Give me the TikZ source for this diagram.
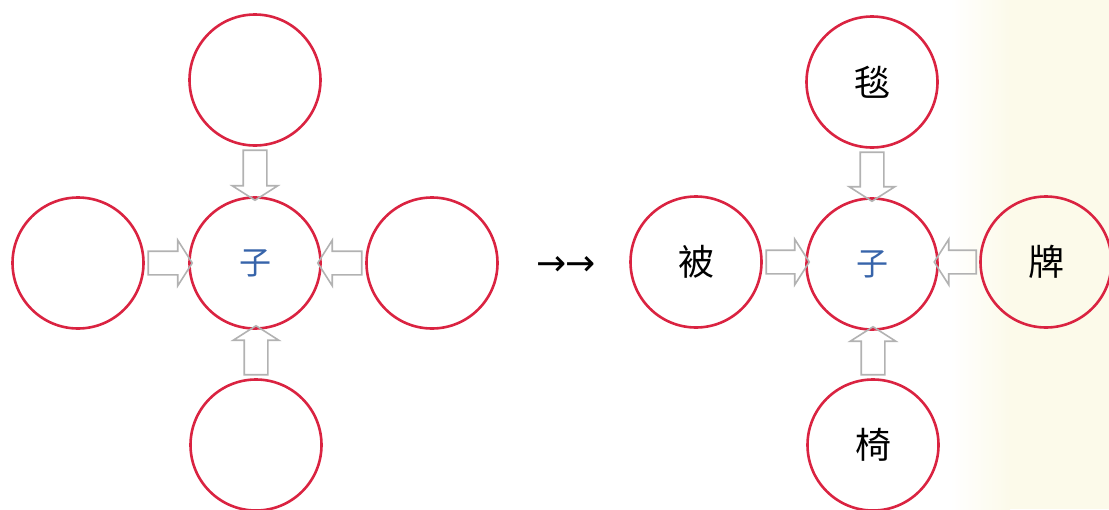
\documentclass[tikz,border=0pt]{standalone}
\usepackage{fontspec}
\newfontfamily\cjk{Noto Sans CJK SC}
\newfontfamily\dejavu{DejaVu Sans}
\usetikzlibrary{shapes.arrows,calc}
\definecolor{ringred}{RGB}{218,35,65}
\definecolor{arrowgray}{RGB}{178,178,178}
\definecolor{ziblue}{RGB}{55,100,170}
\definecolor{paper}{RGB}{252,250,234}
\begin{document}
\begin{tikzpicture}[x=1pt,y=-1pt,
  ring/.style={circle,draw=ringred,line width=2.6pt,minimum size=131pt,inner sep=0pt,
    font=\cjk\fontsize{36}{36}\selectfont},
  hollow/.style={single arrow,draw=arrowgray,line width=1.6pt,
    single arrow head extend=11pt,single arrow tip angle=115,single arrow head indent=0pt,
    inner xsep=0pt,inner ysep=11pt,outer sep=0pt,sloped,allow upside down,midway}]
\useasboundingbox (0,0) rectangle (1109,509);
\clip (0,0) rectangle (1109,509);
\shade[left color=white,right color=paper] (950,0) rectangle (1010,509);
\fill[paper] (1009.5,0) rectangle (1109,509);

% left group
\node[ring] (lc) at (255,263) {\color{ziblue}\fontsize{32}{32}\selectfont 子};
\node[ring] (lt) at (255,80) {};
\node[ring] (lb) at (256,445) {};
\node[ring] (ll) at (78,263) {};
\node[ring] (lr) at (432,263) {};
\path (lt.south) -- (lt.south |- lc.north) node[hollow,minimum height=50pt] {};
\path (lb.north) -- (lb.north |- lc.south) node[hollow,minimum height=49pt] {};
\path (ll.east) -- (ll.east -| lc.west) node[hollow,minimum height=44pt] {};
\path (lr.west) -- (lr.west -| lc.east) node[hollow,minimum height=44pt] {};

% middle
\node[font=\dejavu\fontsize{36}{36}\selectfont,inner sep=0pt] (mid) at (566,266) {→\kern-1pt→};

% right group
\node[ring] (rc) at (872,264) {\color{ziblue}\fontsize{32}{32}\selectfont 子};
\node[ring] (rt) at (872,82) {毯};
\node[ring] (rb) at (873,445) {椅};
\node[ring] (rl) at (696,262) {被};
\node[ring] (rr) at (1046,262) {牌};
\path (rt.south) -- (rt.south |- rc.north) node[hollow,minimum height=49pt] {};
\path (rb.north) -- (rb.north |- rc.south) node[hollow,minimum height=48pt] {};
\path (rl.east) -- (rl.east -| rc.west) node[hollow,minimum height=43pt] {};
\path (rr.west) -- (rr.west -| rc.east) node[hollow,minimum height=42pt] {};
\end{tikzpicture}
\end{document}
